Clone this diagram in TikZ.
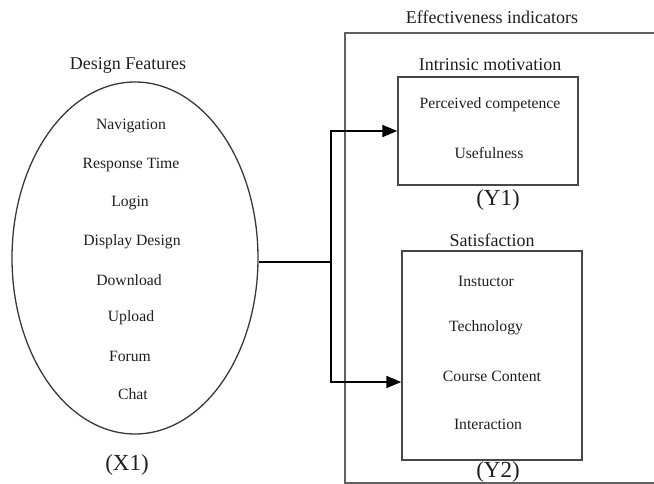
\documentclass[tikz,border=0pt]{standalone}
\usepackage{fontspec}
\setmainfont{Liberation Serif}
\usetikzlibrary{shapes.geometric,arrows.meta}
\begin{document}
\begin{tikzpicture}[x=1pt,y=-1pt,
  every node/.style={text=black!88},
  head/.style={font=\fontsize{18}{20}\selectfont},
  item/.style={font=\fontsize{15.7}{18}\selectfont},
  lab/.style={font=\fontsize{23}{25}\selectfont},
  box/.style={draw=black!72,line width=1.5pt,inner sep=0pt},
  conn/.style={line width=2pt,black},
  arr/.style={conn,-{Triangle[length=15pt,width=12pt]}}]
\useasboundingbox (0,0) rectangle (654,484);
% left side
\node[head] (df) at (128,65) {Design Features};
\node[draw=black!78,line width=1.3pt,ellipse,minimum width=246pt,minimum height=352pt,inner sep=0pt] (X) at (135,258) {};
\node[item] (n1) at (131,126) {Navigation};
\node[item] (n2) at (131,165) {Response Time};
\node[item] (n3) at (130,203) {Login};
\node[item] (n4) at (132,242) {Display Design};
\node[item] (n5) at (129,280) {Download};
\node[item] (n6) at (131,318) {Upload};
\node[item] (n7) at (130,356) {Forum};
\node[item] (n8) at (133,394) {Chat};
\node[lab] (x1) at (127,465) {(X1)};
% right side
\node[head] (ei) at (492,17) {Effectiveness indicators};
\draw[black!62,line width=1.5pt] (660,33) -- (345,33) -- (345,483) -- (660,483);
\node[head] (im) at (490,65) {Intrinsic motivation};
\node[box,minimum width=180pt,minimum height=108pt] (Y1) at (488,131) {};
\node[item] (p1) at (490,105) {Perceived competence};
\node[item] (p2) at (489,153) {Usefulness};
\node[lab] (y1) at (498,200) {(Y1)};
\node[head] (sat) at (492,240) {Satisfaction};
\node[box,minimum width=180pt,minimum height=209pt] (Y2) at (492,355.5) {};
\node[item] (s1) at (486,281) {Instuctor};
\node[item] (s2) at (486,328) {Technology};
\node[item] (s3) at (492,376) {Course Content};
\node[item] (s4) at (488,424) {Interaction};
\node[lab] (y2) at (498,472) {(Y2)};
% connectors
\coordinate (j) at (331,262);
\draw[conn] (j -| X.east) -- (j);
\draw[arr] (j) |- (Y1.west);
\draw[arr] (j) |- ([yshift=-26.5pt]Y2.west);
\end{tikzpicture}
\end{document}
